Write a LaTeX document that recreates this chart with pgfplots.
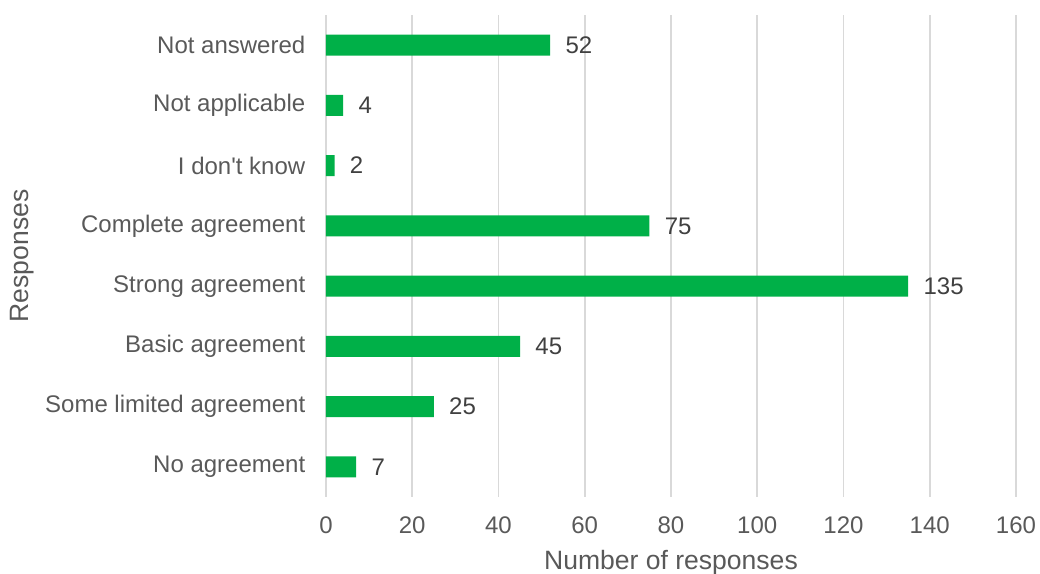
\documentclass[border=0pt]{standalone}
\usepackage{fontspec}
\setmainfont{Liberation Sans}
\usepackage{pgfplots}
\pgfplotsset{compat=1.18}
\definecolor{bargreen}{RGB}{0,176,72}
\definecolor{gridgray}{RGB}{217,217,217}
\definecolor{labgray}{RGB}{89,89,89}
\definecolor{datgray}{RGB}{64,64,64}
\begin{document}
\begin{tikzpicture}
\begin{axis}[
  scale only axis,
  width=517.5pt, height=361.5pt,
  xbar, bar width=15.75pt,
  xmin=0, xmax=160,
  ymin=-0.5, ymax=7.5,
  xtick={0,20,...,160},
  ytick={0,...,7},
  yticklabels={No agreement,Some limited agreement,Basic agreement,Strong agreement,Complete agreement,I don\textquotesingle t know,Not applicable,Not answered},
  xmajorgrids, grid style={gridgray, line width=1.2pt},
  axis line style={draw=none},
  axis x line*=bottom, axis y line*=left,
  major tick length=0pt,
  tick style={draw=none},
  ticklabel style={font=\fontsize{18}{21}\selectfont, text=labgray},
  /pgf/number format/assume math mode=true,
  xticklabel style={yshift=-11pt},
  yticklabel style={xshift=-12pt},
  xlabel={Number of responses},
  ylabel={Responses},
  label style={font=\fontsize{19.9}{23}\selectfont, text=labgray},
  xlabel style={at={(axis description cs:0.5,-0.137)}, anchor=center},
  ylabel style={at={(axis description cs:-0.4406,0.5)}, anchor=center},
  nodes near coords,
  nodes near coords style={font=\fontsize{18}{21}\selectfont, text=datgray, anchor=west, xshift=8pt},
  clip=false,
]
\addplot[fill=bargreen, draw=none] coordinates {
(7,0) (25,1) (45,2) (135,3) (75,4) (2,5) (4,6) (52,7)
};
\coordinate (ll) at (rel axis cs:0,0);
\coordinate (ur) at (rel axis cs:1,1);
\end{axis}
\pgfresetboundingbox
\path[use as bounding box] ([xshift=-244.5pt,yshift=-57.75pt]ll) rectangle ([xshift=18pt,yshift=11.25pt]ur);
\end{tikzpicture}
\end{document}
